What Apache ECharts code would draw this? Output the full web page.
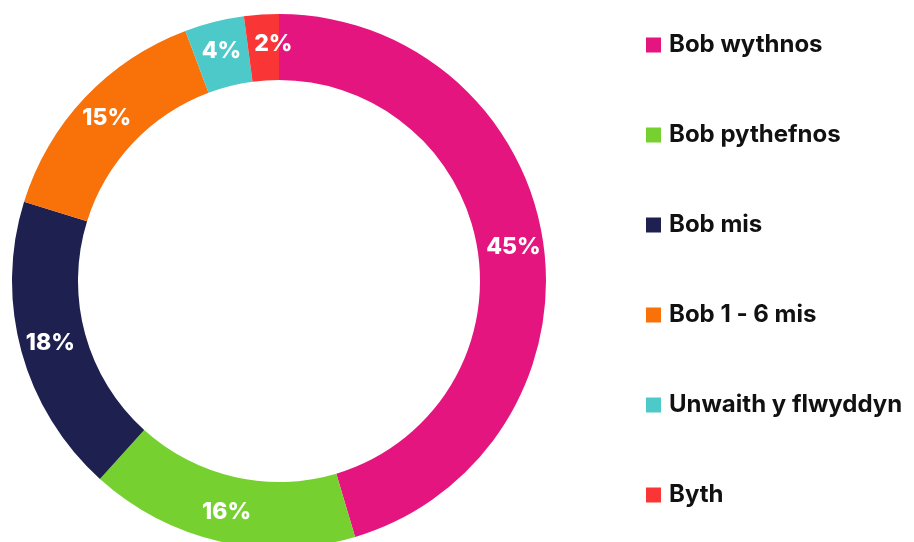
<!DOCTYPE html>
<html>
<head>
<meta charset="utf-8">
<script src="https://cdn.jsdelivr.net/npm/echarts@6/dist/echarts.min.js"></script>
<style>html,body{margin:0;padding:0;background:#fff}#c{width:914px;height:542px}</style>
</head>
<body>
<div id="c"></div>
<script>
const categories = ['Bob wythnos', 'Bob pythefnos', 'Bob mis', 'Bob 1 - 6 mis', 'Unwaith y flwyddyn', 'Byth'];
const values = [45.4, 16.3, 18.1, 14.5, 3.6, 2.1];
const colors = ['#E5157F', '#76D130', '#1E2050', '#F97109', '#4DC9C9', '#FA3535'];

const chart = echarts.init(document.getElementById('c'), null, {renderer: 'canvas'});
chart.setOption({
  animation: false,
  color: colors,
  legend: {
    orient: 'vertical',
    left: 646,
    top: 30,
    padding: 0,
    itemWidth: 15,
    itemHeight: 15,
    itemGap: 60,
    icon: 'rect',
    textStyle: {fontFamily: 'Inter', fontWeight: 'bold', fontSize: 24, color: '#111', lineHeight: 30, height: 30, padding: [0, 0, 0, 3]},
    data: categories
  },
  series: [{
    type: 'pie',
    center: [279, 281],
    radius: [201, 267],
    startAngle: 90,
    clockwise: true,
    label: {
      position: 'inside',
      formatter: p => Math.round(p.value) + '%',
      color: '#fff',
      fontFamily: 'Inter',
      fontWeight: 800,
      fontSize: 23
    },
    labelLine: {show: false},
    emphasis: {disabled: true},
    itemStyle: {borderWidth: 0},
    data: categories.map((n, i) => ({
      name: n,
      value: values[i],
      label: i === 5 ? {offset: [10, 0]} : undefined
    }))
  }]
});
</script>
</body>
</html>
